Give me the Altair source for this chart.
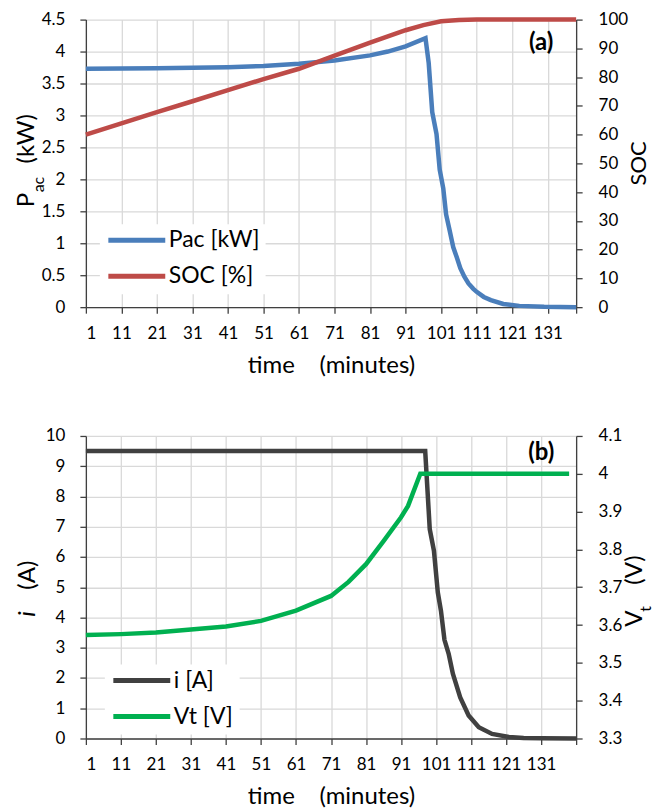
import altair as alt
import pandas as pd

FONT = "Lato"

# ---------------- data ----------------
# Panel (a)
pac_t = [1, 11, 21, 31, 41, 51, 61, 71, 81, 86, 91, 96.6, 97.5, 98.5, 99.7, 100.6,
         101.6, 102.4, 103.4, 104.4, 105.4, 106.4, 107.5, 108.7, 110, 111, 113, 115,
         118.5, 123, 130, 139]
pac_kw = [3.73, 3.733, 3.737, 3.745, 3.755, 3.775, 3.81, 3.86, 3.94, 4.0, 4.08, 4.21,
          3.82, 3.05, 2.71, 2.15, 1.86, 1.45, 1.20, 0.94, 0.78, 0.61, 0.48, 0.37,
          0.29, 0.24, 0.16, 0.11, 0.05, 0.02, 0.005, 0.0]
soc_t = [1, 11, 21, 31, 41, 51, 61, 71, 81, 86, 91, 96, 101, 106, 111, 139]
soc_pct = [60, 63.9, 67.8, 71.6, 75.5, 79.3, 82.9, 87.5, 92.0, 94.2, 96.3, 98.1,
           99.4, 99.9, 100, 100]

# Panel (b)
i_t = [1, 97.9, 99.2, 100.4, 101.5, 102.4, 103.4, 104.6, 105.8, 107.9, 110.3, 113.2,
       117, 121.8, 126, 131, 141]
i_amp = [9.5, 9.5, 6.92, 6.2, 4.83, 4.22, 3.26, 2.80, 2.14, 1.36, 0.76, 0.37, 0.15,
         0.05, 0.02, 0.01, 0.0]
vt_t = [1, 11, 21, 31, 41, 51, 61, 71, 76, 81, 86, 91, 93, 96.5, 139]
vt_v = [3.574, 3.576, 3.580, 3.588, 3.596, 3.611, 3.638, 3.677, 3.714, 3.761, 3.822,
        3.885, 3.915, 4.0, 4.0]

series_a = ["Pac [kW]", "SOC [%]"]
series_b = ["i [A]", "Vt [V]"]
colors_a = ["#4a7ebb", "#be4b48"]
colors_b = ["#404040", "#00b050"]

x_ticks = [1, 11, 21, 31, 41, 51, 61, 71, 81, 91, 101, 111, 121, 131]
x_end_a = 139
x_end_b = 141
pac_ticks = [0, 0.5, 1, 1.5, 2, 2.5, 3, 3.5, 4, 4.5]
soc_ticks = [0, 10, 20, 30, 40, 50, 60, 70, 80, 90, 100]
i_ticks = [0, 1, 2, 3, 4, 5, 6, 7, 8, 9, 10]
vt_ticks = [3.3, 3.4, 3.5, 3.6, 3.7, 3.8, 3.9, 4.0, 4.1]

x_title = "time\u00a0\u00a0\u00a0\u00a0(minutes)"
panel_tags = ["(a)", "(b)"]

W = 491
HA = 288
HB = 303
TF = 24   # title font size
SF = 16   # subscript font size

AX = dict(labelFont=FONT, labelFontSize=17, labelColor="#000",
          titleFont=FONT, titleFontSize=TF, titleColor="#000", titleFontWeight="normal",
          domainColor="#404040", domainWidth=1.3, tickColor="#404040", tickSize=6,
          tickWidth=1.3, gridColor="#d9d9d9", gridWidth=1.3, format=".2~f")


def x_enc(end):
    return alt.X("t:Q", scale=alt.Scale(domain=[1, end], nice=False, zero=False),
                 axis=alt.Axis(values=x_ticks + [end],
                               labelExpr="datum.value > 131 ? '' : datum.label",
                               title=x_title, labelPadding=12, titlePadding=12,
                               grid=True, **AX))


def legend(lx, ly):
    return alt.Legend(orient="none", legendX=lx, legendY=ly, title=None,
                      symbolType="stroke", symbolSize=3249, symbolStrokeWidth=5,
                      clipHeight=20, labelFont=FONT, labelFontSize=23, labelColor="#000",
                      fillColor="white", padding=6, rowPadding=13, labelOffset=1)


def txt(s, x, y, size=TF, weight="normal", style="normal", angle=0,
        align="left", baseline="alphabetic"):
    return alt.Chart(pd.DataFrame({"s": [s]})).mark_text(
        font=FONT, fontSize=size, fontWeight=weight, fontStyle=style, angle=angle,
        align=align, baseline=baseline, color="#000"
    ).encode(x=alt.value(x), y=alt.value(y), text="s:N")


def frame(t, v, name):
    return pd.DataFrame({"t": t, "v": v, "s": name})


# ---------------- panel (a) ----------------
col_a = alt.Color("s:N", scale=alt.Scale(domain=series_a, range=colors_a),
                  legend=legend(14, 205))

pac_layer = alt.Chart(frame(pac_t, pac_kw, series_a[0])).mark_line(strokeWidth=4.5).encode(
    x=x_enc(x_end_a),
    y=alt.Y("v:Q", scale=alt.Scale(domain=[0, 4.5], nice=False),
            axis=alt.Axis(orient="left", values=pac_ticks, title=None,
                          grid=True, labelPadding=15, **AX)),
    color=col_a,
)
soc_layer = alt.Chart(frame(soc_t, soc_pct, series_a[1])).mark_line(strokeWidth=4.5).encode(
    x=x_enc(x_end_a),
    y=alt.Y("v:Q", scale=alt.Scale(domain=[0, 100], nice=False),
            axis=alt.Axis(orient="right", values=soc_ticks, title=None,
                          grid=False, labelPadding=16, **AX)),
    color=col_a,
)

panel_a = alt.layer(
    pac_layer, soc_layer,
    txt(panel_tags[0], 456, 23, size=24, weight="bold", align="center", baseline="middle"),
    txt("P", -52, 188, angle=270),
    txt("ac", -42, 173, size=SF, angle=270),
    txt("(kW)", -52, 144, angle=270),
    txt("SOC", W + 70, HA / 2, size=22, angle=270, align="center"),
).resolve_scale(y="independent").properties(width=W, height=HA)

# ---------------- panel (b) ----------------
col_b = alt.Color("s:N", scale=alt.Scale(domain=series_b, range=colors_b),
                  legend=legend(19, 229))

vt_layer = alt.Chart(frame(vt_t, vt_v, series_b[1])).mark_line(strokeWidth=4.5).encode(
    x=x_enc(x_end_b),
    y=alt.Y("v:Q", scale=alt.Scale(domain=[3.3, 4.1], nice=False, zero=False),
            axis=alt.Axis(orient="right", values=vt_ticks, title=None,
                          grid=False, labelPadding=16, **AX)),
    color=col_b,
)
i_layer = alt.Chart(frame(i_t, i_amp, series_b[0])).mark_line(strokeWidth=4.5).encode(
    x=x_enc(x_end_b),
    y=alt.Y("v:Q", scale=alt.Scale(domain=[0, 10], nice=False),
            axis=alt.Axis(orient="left", values=i_ticks, title=None,
                          grid=True, labelPadding=15, **AX)),
    color=col_b,
)

panel_b = alt.layer(
    i_layer, vt_layer,
    txt(panel_tags[1], 456, 17, size=24, weight="bold", align="center", baseline="middle"),
    txt("i", -51, 181, style="italic", angle=270),
    txt("(A)", -51, 154, angle=270),
    txt("V", W + 66, 191, angle=270),
    txt("t", W + 75, 176, size=SF, angle=270),
    txt("(V)", W + 66, 149, angle=270),
).resolve_scale(y="independent").properties(width=W, height=HB)

chart = alt.vconcat(panel_a, panel_b, spacing=50).resolve_scale(
    color="independent"
).properties(
    padding={"left": 7, "top": 2, "right": 5, "bottom": 5}
).configure_view(stroke=None)

chart.save("out.html", embed_options={"renderer": "svg", "actions": False})
